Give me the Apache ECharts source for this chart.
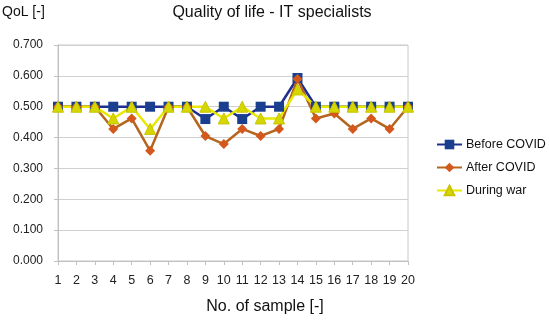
<!DOCTYPE html>
<html><head><meta charset="utf-8">
<script src="https://cdn.jsdelivr.net/npm/echarts@6/dist/echarts.min.js"></script>
<style>html,body{margin:0;padding:0;background:#fff}#c{width:550px;height:321px}</style>
</head><body><div id="c"></div>
<script>
var categories = ['1','2','3','4','5','6','7','8','9','10','11','12','13','14','15','16','17','18','19','20'];
var beforeCovid = [0.5,0.5,0.5,0.5,0.5,0.5,0.5,0.5,0.46,0.5,0.46,0.5,0.5,0.593,0.5,0.5,0.5,0.5,0.5,0.5];
var afterCovid  = [0.5,0.5,0.5,0.428,0.462,0.357,0.5,0.5,0.405,0.379,0.428,0.405,0.428,0.59,0.462,0.478,0.428,0.462,0.428,0.5];
var duringWar   = [0.5,0.5,0.5,0.462,0.5,0.428,0.5,0.5,0.5,0.462,0.5,0.462,0.462,0.556,0.5,0.5,0.5,0.5,0.5,0.5];
var yTicks = [0,0.1,0.2,0.3,0.4,0.5,0.6,0.7];

var chart = echarts.init(document.getElementById('c'));
var font = 'Liberation Sans, Arial, sans-serif';
chart.setOption({
  animation:false,
  textStyle:{fontFamily:font},
  title:[{text:'Quality of life - IT specialists',left:272,textAlign:'center',top:5,padding:0,
          textStyle:{fontSize:16,fontWeight:'normal',color:'#111',fontFamily:font}},
         {text:'QoL [-]',left:2,top:5,padding:0,textStyle:{fontSize:14,fontWeight:'normal',color:'#111',fontFamily:font}},
         {text:'No. of sample [-]',left:265,textAlign:'center',top:299,padding:0,
          textStyle:{fontSize:16,fontWeight:'normal',color:'#111',fontFamily:font}}],
  grid:{left:58,right:142,top:45,bottom:60,show:true,borderColor:'#c8c8c8',borderWidth:1},
  legend:{orient:'vertical',left:436,top:138,itemGap:10,itemWidth:25,itemHeight:12,padding:0,
          textStyle:{fontSize:12.5,color:'#111',fontFamily:font,padding:[0,0,0,-1]},
          data:['Before COVID','After COVID','During war']},
  xAxis:{type:'category',data:categories,boundaryGap:false,
         axisLine:{lineStyle:{color:'#c0c0c0'}},
         axisTick:{show:true,alignWithLabel:true,length:4,lineStyle:{color:'#c0c0c0'}},
         axisLabel:{fontSize:12.5,color:'#222',margin:13,interval:0}},
  yAxis:{type:'value',min:0,max:0.7,interval:0.1,
         axisLine:{show:true,lineStyle:{color:'#c0c0c0'}},
         axisTick:{show:true,length:4,lineStyle:{color:'#c0c0c0'}},
         splitLine:{lineStyle:{color:'#d0d0d0'}},
         axisLabel:{fontSize:12,color:'#222',margin:15,formatter:function(v){return v.toFixed(3);}}},
  series:[
    {name:'Before COVID',type:'line',data:beforeCovid,symbol:'rect',symbolSize:10,
     lineStyle:{color:'#1f2f8f',width:2.5},itemStyle:{color:'#1a3f8f'}},
    {name:'After COVID',type:'line',data:afterCovid,symbol:'diamond',symbolSize:10,
     lineStyle:{color:'#b5651d',width:2.5},itemStyle:{color:'#d4581c'}},
    {name:'During war',type:'line',data:duringWar,symbol:'triangle',symbolSize:11,
     lineStyle:{color:'#e8e800',width:2.5},itemStyle:{color:'#d6d600',borderColor:'#c8c400',borderWidth:1}}
  ]
});
</script></body></html>
